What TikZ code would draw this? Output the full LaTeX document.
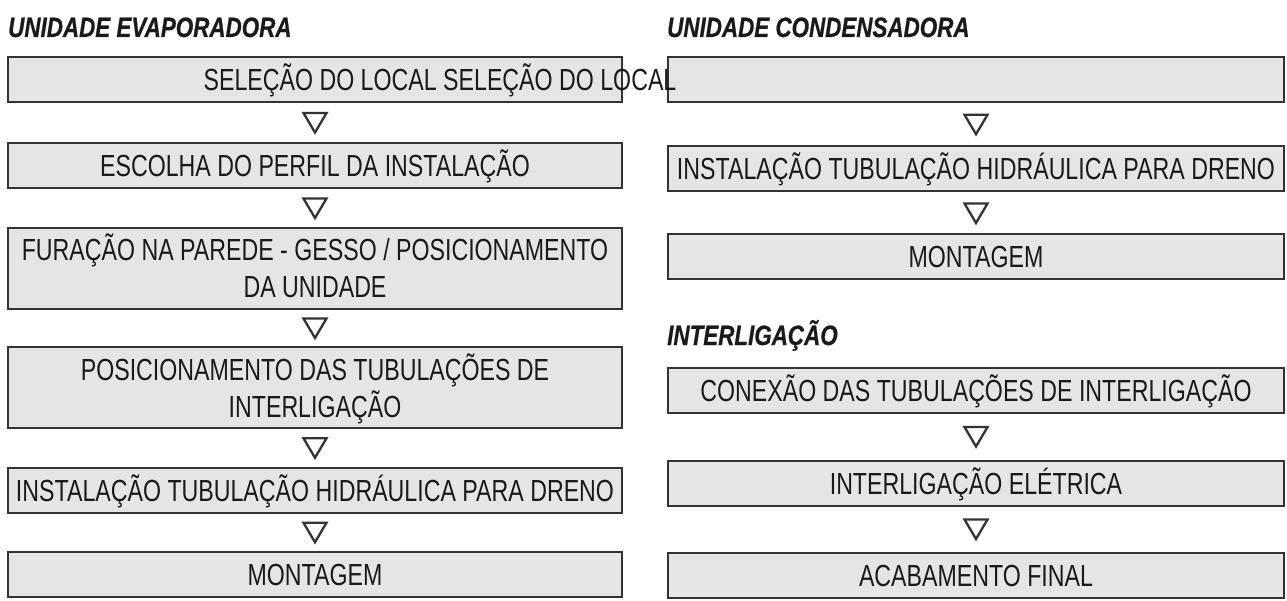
\documentclass[tikz,border=0pt]{standalone}
\usepackage{fontspec}
\setmainfont{Liberation Sans}[FakeStretch=0.76]
\newfontfamily\titlefont{Liberation Sans}[FakeStretch=0.8, FakeBold=0.6]
\usetikzlibrary{calc}
\definecolor{boxfill}{HTML}{E5E5E5}
\definecolor{boxline}{HTML}{333333}
\definecolor{ink}{HTML}{1A1A1A}
\tikzset{
  bodytext/.style={inner sep=0pt, text=ink, font=\fontsize{30.5}{37}\selectfont, text height=22pt, text depth=0pt},
  stepbox/.style={bodytext, draw=boxline, line width=2pt, fill=boxfill, rectangle, minimum height=45pt},
  leftbox/.style={stepbox, minimum width=614pt},
  rightbox/.style={stepbox, minimum width=616pt},
  tallbox/.style={minimum height=81pt},
  heading/.style={anchor=base west, inner sep=0pt, text=ink, font=\titlefont\bfseries\itshape\fontsize{28}{32}\selectfont},
  tri/.style={draw=boxline, line width=2.3pt, fill=white, line join=miter},
  downtri/.pic={\draw[tri] (-11.5,-9.5) -- (11.5,-9.5) -- (0,10) -- cycle;}
}
\begin{document}
\begin{tikzpicture}[x=1pt,y=-1pt]
\useasboundingbox (0,0) rectangle (1287,601);
% headings
\node[heading] (h1) at (8,37) {UNIDADE EVAPORADORA};
\node[heading] (h2) at (667,37) {UNIDADE CONDENSADORA};
\node[heading] (h3) at (667,345) {INTERLIGAÇÃO};
% left column
\node[leftbox] (l1) at (315,79.5) {};
\node[leftbox] (l2) at (315,165.5) {ESCOLHA DO PERFIL DA INSTALAÇÃO};
\node[leftbox, tallbox] (l3) at (315,268.5) {};
\node[bodytext] (l3a) at ($(l3.center)+(0,-18.5)$) {FURAÇÃO NA PAREDE - GESSO / POSICIONAMENTO};
\node[bodytext] (l3b) at ($(l3.center)+(0,18.5)$) {DA UNIDADE};
\node[leftbox, tallbox] (l4) at (315,387.5) {};
\node[bodytext] (l4a) at ($(l4.center)+(0,-18.5)$) {POSICIONAMENTO DAS TUBULAÇÕES DE};
\node[bodytext] (l4b) at ($(l4.center)+(0,18.5)$) {INTERLIGAÇÃO};
\node[leftbox] (l5) at (315,490) {INSTALAÇÃO TUBULAÇÃO HIDRÁULICA PARA DRENO};
\node[leftbox] (l6) at (315,574.5) {MONTAGEM};
% right column
\node[rightbox] (r1) at (976,79.5) {};
\node[rightbox] (r2) at (976,169) {INSTALAÇÃO TUBULAÇÃO HIDRÁULICA PARA DRENO};
\node[rightbox] (r3) at (976,257) {MONTAGEM};
\node[rightbox] (r4) at (976,390) {CONEXÃO DAS TUBULAÇÕES DE INTERLIGAÇÃO};
\node[rightbox] (r5) at (976,483) {INTERLIGAÇÃO ELÉTRICA};
\node[rightbox] (r6) at (976,575) {ACABAMENTO FINAL};
% overflowing text of first row
\node[bodytext] (sel) at (440,79.5) {SELEÇÃO DO LOCAL SELEÇÃO DO LOCAL};
% triangles
\path ($(l1.south)!0.5!(l2.north)$) pic {downtri};
\path ($(l2.south)!0.5!(l3.north)$) pic {downtri};
\path ($(l3.south)!0.5!(l4.north)$) pic {downtri};
\path ($(l4.south)!0.5!(l5.north)$) pic {downtri};
\path ($(l5.south)!0.5!(l6.north)$) pic {downtri};
\path ($(r1.south)!0.5!(r2.north)$) pic {downtri};
\path ($(r2.south)!0.5!(r3.north)$) pic {downtri};
\path ($(r4.south)!0.5!(r5.north)$) pic {downtri};
\path ($(r5.south)!0.5!(r6.north)$) pic {downtri};
\end{tikzpicture}
\end{document}
